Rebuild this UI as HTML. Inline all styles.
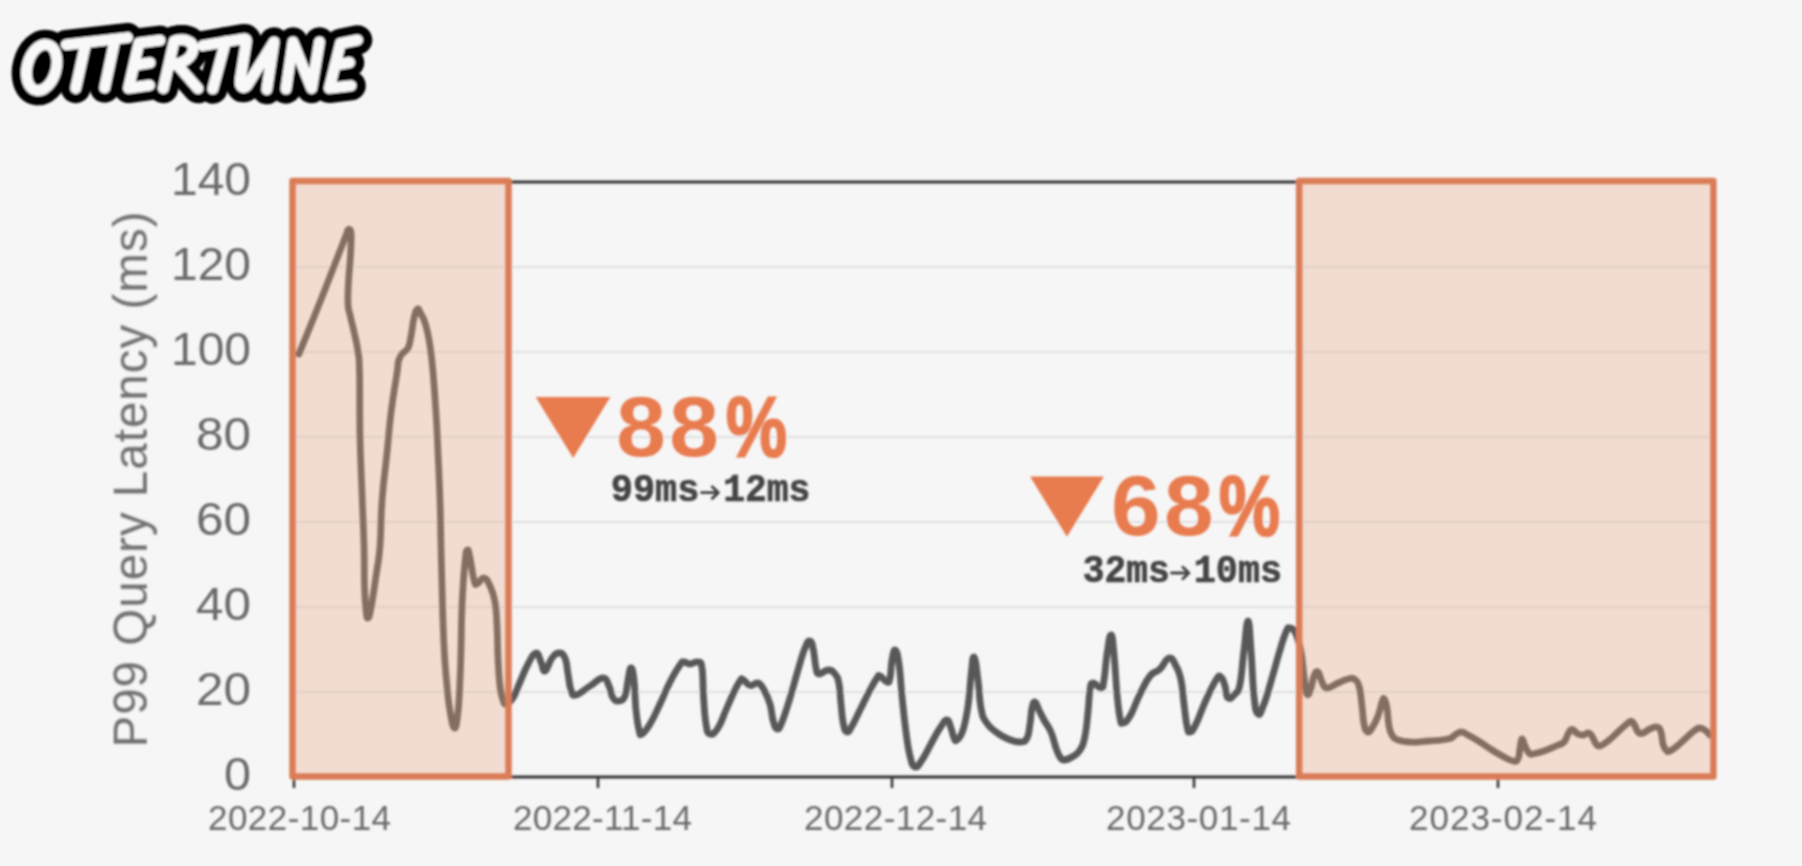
<!DOCTYPE html>
<html><head><meta charset="utf-8"><title>OtterTune P99 Query Latency</title>
<style>
html,body{margin:0;padding:0;background:#f6f6f6;}
body{width:1802px;height:866px;overflow:hidden;font-family:"Liberation Sans",sans-serif;}
svg{display:block}
.sans{font-family:"Liberation Sans",sans-serif}
.mono{font-family:"Liberation Mono",monospace}
</style></head><body>
<svg width="1802" height="866" viewBox="0 0 1802 866">
<rect width="1802" height="866" fill="#f6f6f6"/>
<g id="chart" filter="url(#soft)">
<defs><filter id="soft" x="-2%" y="-2%" width="104%" height="104%"><feGaussianBlur stdDeviation="0.9"/></filter></defs>
<g stroke="#e1e1e1" stroke-width="2.2"><line x1="293" x2="1713" y1="692.0" y2="692.0"/><line x1="293" x2="1713" y1="607.0" y2="607.0"/><line x1="293" x2="1713" y1="522.0" y2="522.0"/><line x1="293" x2="1713" y1="437.0" y2="437.0"/><line x1="293" x2="1713" y1="352.0" y2="352.0"/><line x1="293" x2="1713" y1="267.0" y2="267.0"/></g>
<g stroke="#333" stroke-width="3" fill="none">
<rect x="293" y="182" width="1420" height="595"/>
</g>
<g stroke="#333" stroke-width="2.5"><line x1="294" x2="294" y1="777" y2="788"/><line x1="598" x2="598" y1="777" y2="788"/><line x1="892" x2="892" y1="777" y2="788"/><line x1="1194" x2="1194" y1="777" y2="788"/><line x1="1498" x2="1498" y1="777" y2="788"/></g>
<path d="M299.0,354.0 C304.8,339.5 313.3,319.1 324.0,292.0 C334.7,264.9 339.5,252.2 345.0,238.0 C350.5,223.8 346.4,233.0 347.5,231.0 C348.6,229.0 348.7,229.0 349.5,229.5 C350.3,230.0 350.6,229.4 351.0,233.0 C351.4,236.6 351.2,238.2 351.0,245.0 C350.8,251.8 350.6,253.4 350.0,262.0 C349.4,270.6 349.0,272.2 348.5,282.0 C348.0,291.8 347.6,296.1 348.0,304.0 C348.4,311.9 348.7,308.5 350.3,316.0 C351.9,323.5 353.2,327.6 355.0,336.0 C356.8,344.4 356.9,343.6 358.0,352.0 C359.1,360.4 359.0,352.2 359.5,372.0 C360.0,391.8 359.4,408.8 360.0,437.0 C360.6,465.2 361.1,467.8 362.0,493.0 C362.9,518.2 363.4,523.3 364.0,545.0 C364.6,566.7 364.0,570.8 364.5,586.0 C365.0,601.2 365.2,602.5 366.0,610.0 C366.8,617.5 366.8,618.5 368.0,618.0 C369.2,617.5 369.1,617.8 371.0,608.0 C372.9,598.2 373.9,590.5 376.0,576.0 C378.1,561.5 378.6,563.5 380.0,546.0 C381.4,528.5 380.4,522.7 382.0,501.0 C383.6,479.3 384.9,473.5 387.0,453.0 C389.1,432.5 388.7,431.7 391.0,413.0 C393.3,394.3 395.2,385.1 397.0,373.0 C398.8,360.9 397.3,365.4 398.5,361.0 C399.7,356.6 399.8,357.0 402.0,354.0 C404.2,351.0 405.9,352.2 408.0,348.0 C410.1,343.8 409.6,343.0 411.0,336.0 C412.4,329.0 412.5,324.3 414.0,318.0 C415.5,311.7 415.9,309.9 417.5,309.0 C419.1,308.1 419.5,311.4 421.0,314.0 C422.5,316.6 422.6,316.3 424.0,320.0 C425.4,323.7 425.6,323.9 427.0,330.0 C428.4,336.1 428.6,336.2 430.0,346.0 C431.4,355.8 431.6,356.4 433.0,372.0 C434.4,387.6 434.8,394.1 436.0,413.0 C437.2,431.9 437.1,432.5 438.0,453.0 C438.9,473.5 439.3,479.3 440.0,501.0 C440.7,522.7 440.5,526.2 441.0,546.0 C441.5,565.8 441.3,562.7 442.0,586.0 C442.7,609.3 442.8,622.7 444.0,646.0 C445.2,669.3 445.6,670.8 447.0,686.0 C448.4,701.2 448.2,701.2 450.0,711.0 C451.8,720.8 452.6,727.8 454.5,728.0 C456.4,728.2 456.7,723.2 458.0,712.0 C459.3,700.8 459.3,694.5 460.0,680.0 C460.7,665.5 460.5,667.3 461.0,650.0 C461.5,632.7 461.1,626.5 462.0,606.0 C462.9,585.5 463.7,575.1 465.0,562.0 C466.3,548.9 466.2,550.9 467.4,550.0 C468.6,549.1 468.5,551.0 470.0,558.0 C471.5,565.0 472.4,573.9 474.0,580.0 C475.6,586.1 474.7,584.5 477.0,584.0 C479.3,583.5 481.0,577.5 484.0,578.0 C487.0,578.5 487.4,580.4 490.0,586.0 C492.6,591.6 493.4,592.7 495.0,602.0 C496.6,611.3 496.3,612.9 497.0,626.0 C497.7,639.1 497.3,644.0 498.0,658.0 C498.7,672.0 498.8,676.2 500.0,686.0 C501.2,695.8 501.6,695.8 503.0,700.0 C504.4,704.2 503.7,704.5 506.0,704.0 C508.3,703.5 509.7,703.1 513.0,698.0 C516.3,692.9 516.5,689.9 520.0,682.0 C523.5,674.1 524.3,670.8 528.0,664.0 C531.7,657.2 533.0,653.5 536.0,653.0 C539.0,652.5 538.9,657.8 541.0,662.0 C543.1,666.2 542.4,671.9 545.0,671.0 C547.6,670.1 548.7,662.2 552.0,658.0 C555.3,653.8 556.0,653.0 559.0,653.0 C562.0,653.0 562.9,653.1 565.0,658.0 C567.1,662.9 566.6,666.5 568.0,674.0 C569.4,681.5 569.1,685.1 571.0,690.0 C572.9,694.9 571.6,695.9 576.0,695.0 C580.4,694.1 583.7,690.0 590.0,686.0 C596.3,682.0 598.6,678.0 603.0,678.0 C607.4,678.0 606.7,681.3 609.0,686.0 C611.3,690.7 610.7,694.5 613.0,698.0 C615.3,701.5 616.2,701.5 619.0,701.0 C621.8,700.5 622.9,700.9 625.0,696.0 C627.1,691.1 626.6,686.5 628.0,680.0 C629.4,673.5 629.6,668.0 631.0,668.0 C632.4,668.0 632.8,670.2 634.0,680.0 C635.2,689.8 634.8,698.3 636.0,710.0 C637.2,721.7 637.6,724.4 639.0,730.0 C640.4,735.6 639.4,735.4 642.0,734.0 C644.6,732.6 645.8,731.0 650.0,724.0 C654.2,717.0 655.3,713.8 660.0,704.0 C664.7,694.2 665.3,691.1 670.0,682.0 C674.7,672.9 676.7,669.7 680.0,665.0 C683.3,660.3 681.7,662.2 684.0,662.0 C686.3,661.8 686.7,664.0 690.0,664.0 C693.3,664.0 695.2,661.1 698.0,662.0 C700.8,662.9 700.7,660.1 702.0,668.0 C703.3,675.9 702.6,682.9 703.5,696.0 C704.4,709.1 704.5,715.1 706.0,724.0 C707.5,732.9 707.2,733.1 710.0,734.0 C712.8,734.9 714.3,733.6 718.0,728.0 C721.7,722.4 722.3,718.4 726.0,710.0 C729.7,701.6 730.7,698.8 734.0,692.0 C737.3,685.2 737.9,683.9 740.0,681.0 C742.1,678.1 740.7,678.5 743.0,679.5 C745.3,680.5 746.5,684.7 750.0,685.5 C753.5,686.3 754.7,682.0 758.0,683.0 C761.3,684.0 761.2,685.1 764.0,690.0 C766.8,694.9 767.9,697.0 770.0,704.0 C772.1,711.0 771.4,714.2 773.0,720.0 C774.6,725.8 774.9,728.5 777.0,729.0 C779.1,729.5 779.0,729.2 782.0,722.0 C785.0,714.8 786.3,710.1 790.0,698.0 C793.7,685.9 794.5,681.7 798.0,670.0 C801.5,658.3 802.2,654.8 805.0,648.0 C807.8,641.2 808.0,640.5 810.0,641.0 C812.0,641.5 812.0,643.7 813.4,650.0 C814.8,656.3 814.7,662.4 816.0,668.0 C817.3,673.6 816.2,673.5 819.0,674.0 C821.8,674.5 824.3,670.0 828.0,670.0 C831.7,670.0 832.4,670.7 835.0,674.0 C837.6,677.3 837.6,677.0 839.0,684.0 C840.4,691.0 840.0,694.7 841.0,704.0 C842.0,713.3 842.0,717.5 843.4,724.0 C844.8,730.5 845.0,731.5 847.0,732.0 C849.0,732.5 849.0,731.1 852.0,726.0 C855.0,720.9 855.8,718.4 860.0,710.0 C864.2,701.6 866.0,697.5 870.0,690.0 C874.0,682.5 874.7,681.3 877.0,678.0 C879.3,674.7 877.7,675.1 880.0,676.0 C882.3,676.9 884.7,681.5 887.0,682.0 C889.3,682.5 888.8,683.1 890.0,678.0 C891.2,672.9 890.8,666.5 892.0,660.0 C893.2,653.5 893.7,649.1 895.3,650.0 C896.9,650.9 897.4,653.3 899.0,664.0 C900.6,674.7 900.4,680.1 902.0,696.0 C903.6,711.9 904.1,718.0 906.0,732.0 C907.9,746.0 907.9,747.8 910.0,756.0 C912.1,764.2 912.2,766.1 915.0,767.0 C917.8,767.9 918.0,765.8 922.0,760.0 C926.0,754.2 927.8,749.5 932.0,742.0 C936.2,734.5 936.5,733.1 940.0,728.0 C943.5,722.9 944.4,720.0 947.0,720.0 C949.6,720.0 949.4,723.8 951.0,728.0 C952.6,732.2 952.6,735.2 954.0,738.0 C955.4,740.8 954.9,741.9 957.0,740.0 C959.1,738.1 960.4,737.9 963.0,730.0 C965.6,722.1 966.1,718.6 968.0,706.0 C969.9,693.4 969.6,687.4 971.0,676.0 C972.4,664.6 972.4,656.1 974.0,657.0 C975.6,657.9 976.4,668.1 978.0,680.0 C979.6,691.9 979.1,698.2 981.0,708.0 C982.9,717.8 982.5,716.4 986.0,722.0 C989.5,727.6 990.9,728.0 996.0,732.0 C1001.1,736.0 1002.4,736.7 1008.0,739.0 C1013.6,741.3 1015.6,742.2 1020.0,742.0 C1024.4,741.8 1024.7,742.2 1027.0,738.0 C1029.3,733.8 1028.8,731.0 1030.0,724.0 C1031.2,717.0 1030.8,713.1 1032.0,708.0 C1033.2,702.9 1033.4,701.5 1035.0,702.0 C1036.6,702.5 1036.9,705.8 1039.0,710.0 C1041.1,714.2 1041.2,714.9 1044.0,720.0 C1046.8,725.1 1048.2,725.5 1051.0,732.0 C1053.8,738.5 1053.9,742.2 1056.0,748.0 C1058.1,753.8 1058.1,754.2 1060.0,757.0 C1061.9,759.8 1061.2,760.0 1064.0,760.0 C1066.8,760.0 1068.3,759.3 1072.0,757.0 C1075.7,754.7 1077.0,754.9 1080.0,750.0 C1083.0,745.1 1083.1,744.9 1085.0,736.0 C1086.9,727.1 1086.8,722.7 1088.0,712.0 C1089.2,701.3 1088.8,696.8 1090.0,690.0 C1091.2,683.2 1090.4,683.5 1093.0,683.0 C1095.6,682.5 1098.4,688.7 1101.0,688.0 C1103.6,687.3 1102.6,687.9 1104.0,680.0 C1105.4,672.1 1105.4,664.5 1107.0,654.0 C1108.6,643.5 1109.4,635.0 1111.0,635.0 C1112.6,635.0 1112.6,640.2 1114.0,654.0 C1115.4,667.8 1115.6,679.1 1117.0,694.0 C1118.4,708.9 1118.6,711.2 1120.0,718.0 C1121.4,724.8 1120.7,723.5 1123.0,723.0 C1125.3,722.5 1126.0,722.8 1130.0,716.0 C1134.0,709.2 1135.3,703.3 1140.0,694.0 C1144.7,684.7 1145.3,681.8 1150.0,676.0 C1154.7,670.2 1155.6,673.2 1160.0,669.0 C1164.4,664.8 1165.3,658.7 1169.0,658.0 C1172.7,657.3 1173.2,660.9 1176.0,666.0 C1178.8,671.1 1179.1,671.1 1181.0,680.0 C1182.9,688.9 1182.6,693.3 1184.0,704.0 C1185.4,714.7 1185.6,719.5 1187.0,726.0 C1188.4,732.5 1187.9,732.5 1190.0,732.0 C1192.1,731.5 1192.3,731.5 1196.0,724.0 C1199.7,716.5 1201.3,710.3 1206.0,700.0 C1210.7,689.7 1212.5,685.4 1216.0,680.0 C1219.5,674.6 1218.9,675.6 1221.0,677.0 C1223.1,678.4 1223.4,681.1 1225.0,686.0 C1226.6,690.9 1225.7,696.1 1228.0,698.0 C1230.3,699.9 1232.2,697.3 1235.0,694.0 C1237.8,690.7 1237.9,694.3 1240.0,684.0 C1242.1,673.7 1242.1,664.7 1244.0,650.0 C1245.9,635.3 1246.4,621.0 1248.0,621.0 C1249.6,621.0 1249.6,632.5 1251.0,650.0 C1252.4,667.5 1252.4,681.1 1254.0,696.0 C1255.6,710.9 1255.7,712.1 1258.0,714.0 C1260.3,715.9 1260.7,712.4 1264.0,704.0 C1267.3,695.6 1268.3,690.6 1272.0,678.0 C1275.7,665.4 1276.7,660.7 1280.0,650.0 C1283.3,639.3 1283.7,637.1 1286.0,632.0 C1288.3,626.9 1287.7,627.5 1290.0,628.0 C1292.3,628.5 1293.4,628.4 1296.0,634.0 C1298.6,639.6 1299.1,642.2 1301.0,652.0 C1302.9,661.8 1302.6,666.2 1304.0,676.0 C1305.4,685.8 1305.4,691.2 1307.0,694.0 C1308.6,696.8 1309.4,692.2 1311.0,688.0 C1312.6,683.8 1312.4,679.7 1314.0,676.0 C1315.6,672.3 1316.1,670.6 1318.0,672.0 C1319.9,673.4 1319.9,678.3 1322.0,682.0 C1324.1,685.7 1323.3,687.8 1327.0,688.0 C1330.7,688.2 1333.1,685.1 1338.0,683.0 C1342.9,680.9 1344.3,679.9 1348.0,679.0 C1351.7,678.1 1351.4,677.4 1354.0,679.0 C1356.6,680.6 1357.1,679.7 1359.0,686.0 C1360.9,692.3 1360.8,697.1 1362.0,706.0 C1363.2,714.9 1362.7,717.9 1364.0,724.0 C1365.3,730.1 1365.6,731.1 1367.5,732.0 C1369.4,732.9 1369.5,731.7 1372.0,728.0 C1374.5,724.3 1375.7,722.1 1378.0,716.0 C1380.3,709.9 1380.5,706.0 1382.0,702.0 C1383.5,698.0 1383.1,697.6 1384.3,699.0 C1385.5,700.4 1385.9,701.7 1387.0,708.0 C1388.1,714.3 1387.8,719.7 1389.0,726.0 C1390.2,732.3 1389.9,731.7 1392.0,735.0 C1394.1,738.3 1393.8,738.4 1398.0,740.0 C1402.2,741.6 1403.0,741.8 1410.0,742.0 C1417.0,742.2 1419.1,741.7 1428.0,741.0 C1436.9,740.3 1441.7,740.4 1448.0,739.0 C1454.3,737.6 1452.0,736.6 1455.0,735.0 C1458.0,733.4 1458.0,732.0 1461.0,732.0 C1464.0,732.0 1463.6,732.7 1468.0,735.0 C1472.4,737.3 1474.4,738.5 1480.0,742.0 C1485.6,745.5 1486.4,746.5 1492.0,750.0 C1497.6,753.5 1499.1,754.4 1504.0,757.0 C1508.9,759.6 1509.7,760.5 1513.0,761.0 C1516.3,761.5 1516.4,762.0 1518.0,759.0 C1519.6,756.0 1519.1,752.7 1520.0,748.0 C1520.9,743.3 1520.8,739.5 1522.0,739.0 C1523.2,738.5 1523.4,742.7 1525.0,746.0 C1526.6,749.3 1527.1,751.1 1529.0,753.0 C1530.9,754.9 1529.5,754.5 1533.0,754.0 C1536.5,753.5 1538.6,752.9 1544.0,751.0 C1549.4,749.1 1551.3,748.1 1556.0,746.0 C1560.7,743.9 1561.2,744.8 1564.0,742.0 C1566.8,739.2 1566.1,736.9 1568.0,734.0 C1569.9,731.1 1569.7,729.5 1572.0,729.5 C1574.3,729.5 1575.4,732.7 1578.0,734.0 C1580.6,735.3 1580.4,735.2 1583.0,735.0 C1585.6,734.8 1586.7,732.3 1589.0,733.0 C1591.3,733.7 1591.4,735.4 1593.0,738.0 C1594.6,740.6 1594.4,742.1 1596.0,744.0 C1597.6,745.9 1597.2,746.7 1600.0,746.0 C1602.8,745.3 1603.3,744.7 1608.0,741.0 C1612.7,737.3 1615.3,734.2 1620.0,730.0 C1624.7,725.8 1625.2,725.0 1628.0,723.0 C1630.8,721.0 1630.4,720.8 1632.0,721.5 C1633.6,722.2 1633.6,723.5 1635.0,726.0 C1636.4,728.5 1636.4,730.2 1638.0,732.0 C1639.6,733.8 1639.2,734.2 1642.0,733.5 C1644.8,732.8 1646.5,730.5 1650.0,729.0 C1653.5,727.5 1654.4,726.3 1657.0,727.0 C1659.6,727.7 1659.6,728.0 1661.0,732.0 C1662.4,736.0 1661.8,739.8 1663.0,744.0 C1664.2,748.2 1664.6,748.2 1666.0,750.0 C1667.4,751.8 1666.7,752.2 1669.0,751.5 C1671.3,750.8 1672.0,750.1 1676.0,747.0 C1680.0,743.9 1681.8,741.7 1686.0,738.0 C1690.2,734.3 1690.7,733.3 1694.0,731.0 C1697.3,728.7 1697.2,728.0 1700.0,728.0 C1702.8,728.0 1703.7,729.4 1706.0,731.0 C1708.3,732.6 1709.1,734.1 1710.0,735.0" fill="none" stroke="#585858" stroke-width="6.8" stroke-linejoin="round" stroke-linecap="round"/>
<g fill="#e8a07e" fill-opacity="0.31" stroke="none">
<rect x="292.5" y="181" width="216" height="595.5"/>
<rect x="1299" y="181" width="414.5" height="595.5"/>
</g>
<g fill="none" stroke="#da7c57" stroke-width="6.5" stroke-linejoin="round">
<rect x="292.5" y="181" width="216" height="595.5"/>
<rect x="1299.2" y="181" width="414.2" height="595.5"/>
</g>
<g fill="#e87c50">
<path d="M535.7,397 L610.3,397 L573.2,458 Z"/>
<path d="M1030.1,476.4 L1103.9,476.4 L1066.9,536.8 Z"/>
</g>
<g class="sans" font-weight="bold" font-size="85" fill="#e87c50" lengthAdjust="spacingAndGlyphs">
<text x="616.2" y="455.6" textLength="49.6" lengthAdjust="spacingAndGlyphs">8</text>
<text x="669.3" y="455.6" textLength="49.6" lengthAdjust="spacingAndGlyphs">8</text>
<text x="726" y="455.6" textLength="61" lengthAdjust="spacingAndGlyphs" stroke="#e87c50" stroke-width="2.2">%</text>
<text x="1111" y="534.7" textLength="49.6" lengthAdjust="spacingAndGlyphs">6</text>
<text x="1164" y="534.7" textLength="49.6" lengthAdjust="spacingAndGlyphs">8</text>
<text x="1219" y="534.7" textLength="61" lengthAdjust="spacingAndGlyphs" stroke="#e87c50" stroke-width="2.2">%</text>
</g>
<g class="mono" font-weight="bold" font-size="39" fill="#454545" stroke="#454545" stroke-width="0.7">
<text x="610.8" y="501.2" textLength="88.6" lengthAdjust="spacingAndGlyphs">99ms</text>
<text x="723.2" y="501.2" textLength="87.2" lengthAdjust="spacingAndGlyphs">12ms</text>
<text x="1082.7" y="582" textLength="87.1" lengthAdjust="spacingAndGlyphs">32ms</text>
<text x="1193.8" y="582" textLength="88.2" lengthAdjust="spacingAndGlyphs">10ms</text>
</g>
<g fill="none" stroke="#454545" stroke-width="2.9" stroke-linecap="round" stroke-linejoin="round">
<path d="M701.5,492.6 H718 M712.3,486.8 L718.3,492.6 L712.3,498.4"/>
<path d="M1171.5,573 H1188.6 M1182.9,567.2 L1188.9,573 L1182.9,578.8"/>
</g>
<g class="sans" font-size="46.5" fill="#6a6a6a"><text x="224.0" y="790.2" textLength="27.0" lengthAdjust="spacingAndGlyphs">0</text><text x="196.0" y="705.2" textLength="55.0" lengthAdjust="spacingAndGlyphs">20</text><text x="196.0" y="620.2" textLength="55.0" lengthAdjust="spacingAndGlyphs">40</text><text x="196.0" y="535.2" textLength="55.0" lengthAdjust="spacingAndGlyphs">60</text><text x="196.0" y="450.2" textLength="55.0" lengthAdjust="spacingAndGlyphs">80</text><text x="171.0" y="365.2" textLength="80.0" lengthAdjust="spacingAndGlyphs">100</text><text x="171.0" y="280.2" textLength="80.0" lengthAdjust="spacingAndGlyphs">120</text><text x="171.0" y="195.2" textLength="80.0" lengthAdjust="spacingAndGlyphs">140</text></g>
<g class="sans" font-size="35" fill="#6a6a6a"><text x="208" y="830" textLength="183" lengthAdjust="spacing">2022-10-14</text><text x="513" y="830" textLength="179" lengthAdjust="spacing">2022-11-14</text><text x="804" y="830" textLength="183" lengthAdjust="spacing">2022-12-14</text><text x="1106" y="830" textLength="185" lengthAdjust="spacing">2023-01-14</text><text x="1409" y="830" textLength="188" lengthAdjust="spacing">2023-02-14</text></g>
<text class="sans" font-size="47.5" fill="#707070" transform="translate(146.8,747.5) rotate(-90)" textLength="536" lengthAdjust="spacing">P99 Query Latency (ms)</text>
<g fill="none" stroke-linecap="round" stroke-linejoin="round">
<g stroke="#000" stroke-width="29.5"><g fill="#000"><ellipse cx="41.7" cy="67.5" rx="14.5" ry="23.5" transform="rotate(15 41.7 67.5)"/></g><path d="M174.2,41 C184,38.2 193.8,40.5 193,49.5 C192.2,57.5 184,62.8 172,64.8 Z" fill="#000"/><path d="M66.3,44.7 L127.5,37.6"/><path d="M85.8,43 L75.7,88.4"/><path d="M115,39.5 L104.7,87.9"/><path d="M160,40.3 L139,43 L128.5,88.3 L149.5,85.3"/><path d="M134.5,65.2 L150,62.7"/><path d="M163.3,88.4 L174.2,41 C184,38.2 193.8,40.5 193,49.5 C192.2,57.5 184,62.8 172,64.8"/><path d="M176.5,64 L198,88.6"/><path d="M202.8,45.7 L243,38.9 Q247.2,38.2 246.3,42.5 L240.3,79 C239.3,86.5 242.5,90 247,85.5 L274,42 L266.8,89.5"/><path d="M225.5,41.8 L212.8,89"/><path d="M286,89 L293,42 L311.6,88.5 L319.5,42"/><path d="M357.5,40 L340.5,43.5 L329.3,88.3 L351,85.7"/><path d="M335.2,65 L349.5,62.5"/></g>
<g stroke="#f8f8f8" stroke-width="11"><ellipse cx="41.7" cy="67.5" rx="14.5" ry="23.5" transform="rotate(15 41.7 67.5)"/><path d="M66.3,44.7 L127.5,37.6"/><path d="M85.8,43 L75.7,88.4"/><path d="M115,39.5 L104.7,87.9"/><path d="M160,40.3 L139,43 L128.5,88.3 L149.5,85.3"/><path d="M134.5,65.2 L150,62.7"/><path d="M163.3,88.4 L174.2,41 C184,38.2 193.8,40.5 193,49.5 C192.2,57.5 184,62.8 172,64.8"/><path d="M176.5,64 L198,88.6"/><path d="M202.8,45.7 L243,38.9 Q247.2,38.2 246.3,42.5 L240.3,79 C239.3,86.5 242.5,90 247,85.5 L274,42 L266.8,89.5"/><path d="M225.5,41.8 L212.8,89"/><path d="M286,89 L293,42 L311.6,88.5 L319.5,42"/><path d="M357.5,40 L340.5,43.5 L329.3,88.3 L351,85.7"/><path d="M335.2,65 L349.5,62.5"/></g>
</g>
</g>
</svg>
</body></html>
